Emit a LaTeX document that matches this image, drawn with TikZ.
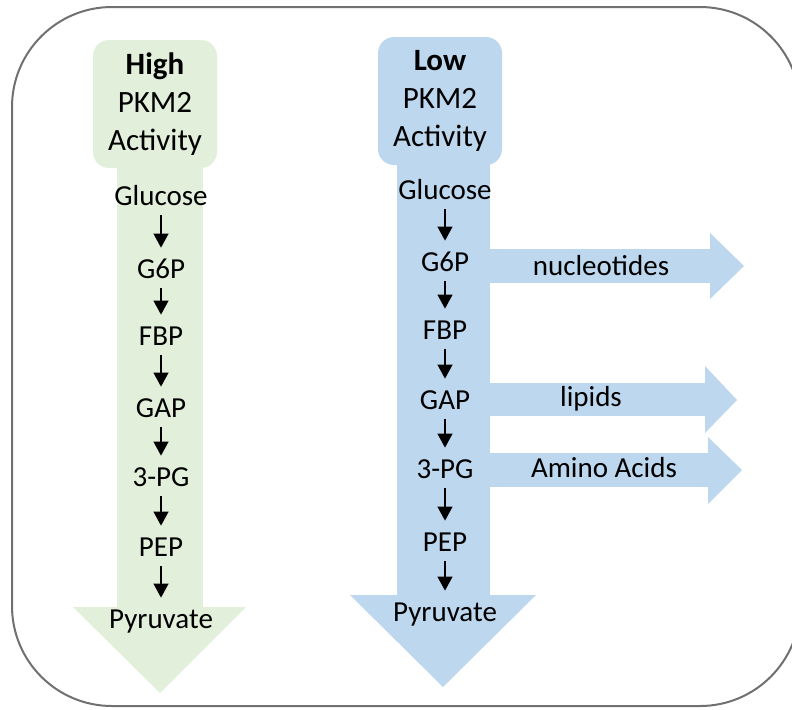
\documentclass[tikz,border=0pt]{standalone}
\usepackage{fontspec}
\setmainfont{Carlito}
\usepackage{tikz}
\usetikzlibrary{arrows.meta}

\definecolor{highgreen}{HTML}{E2EFDA}
\definecolor{lowblue}{HTML}{BDD7EE}
\definecolor{framegray}{HTML}{707070}

\tikzset{
  metab/.style={inner sep=5pt, text height=10pt, text depth=0pt, font=\fontsize{14.5}{17}\selectfont},
  hdr/.style={rounded corners=8pt, minimum width=62pt, minimum height=64pt, align=center, inner sep=0pt,
              font=\fontsize{15.5}{19}\selectfont},
  flux/.style={-{Triangle[length=7pt,width=7.5pt]}, line width=0.55pt, black},
  side/.style={font=\fontsize{14.5}{17}\selectfont}
}

\begin{document}
\begin{tikzpicture}[x=0.5pt, y=-0.5pt]
\useasboundingbox (0,0) rectangle (792,709);
\clip (0,0) rectangle (792,709);

% outer frame
\draw[framegray, line width=1pt, rounded corners=50pt] (12,7) rectangle (800,706);

% High PKM2 activity arrow
\fill[highgreen] (117,160) rectangle (203,607);
\fill[highgreen] (73,607) -- (246,607) -- (160,693) -- cycle;
\node[hdr, fill=highgreen] (high) at (155,104) {\textbf{High}\\PKM2\\Activity};

% Low PKM2 activity arrow
\fill[lowblue] (397,155) rectangle (490,595);
\fill[lowblue] (350,595) -- (536,595) -- (443,687) -- cycle;
\node[hdr, fill=lowblue] (low) at (440,101) {\textbf{Low}\\PKM2\\Activity};

% branches off the low arrow
\fill[lowblue] (485,249) rectangle (710,283);
\fill[lowblue] (710,233) -- (744,266) -- (710,299) -- cycle;
\fill[lowblue] (485,383) rectangle (705,416);
\fill[lowblue] (705,366) -- (737,400) -- (705,433) -- cycle;
\fill[lowblue] (485,453) rectangle (708,487);
\fill[lowblue] (708,437) -- (742,470) -- (708,504) -- cycle;
\node[side] (nuc) at (601,266) {nucleotides};
\node[side] (lip) at (591,399) {lipids};
\node[side] (amino) at (604,468) {Amino Acids};

% glycolysis, high activity
\node[metab] (hglc) at (161,195) {Glucose};
\node[metab] (hg6p) at (161,268) {G6P};
\node[metab] (hfbp) at (161,335) {FBP};
\node[metab] (hgap) at (161,407) {GAP};
\node[metab] (hpg)  at (161,476) {3-PG};
\node[metab] (hpep) at (161,546) {PEP};
\node[metab] (hpyr) at (161,618) {Pyruvate};
\foreach \a/\b in {hglc/hg6p, hg6p/hfbp, hfbp/hgap, hgap/hpg, hpg/hpep, hpep/hpyr}
  \draw[flux] (\a) -- (\b);

% glycolysis, low activity
\node[metab] (lglc) at (445,189) {Glucose};
\node[metab] (lg6p) at (445,261) {G6P};
\node[metab] (lfbp) at (445,329) {FBP};
\node[metab] (lgap) at (445,399) {GAP};
\node[metab] (lpg)  at (445,468) {3-PG};
\node[metab] (lpep) at (445,541) {PEP};
\node[metab] (lpyr) at (445,611) {Pyruvate};
\foreach \a/\b in {lglc/lg6p, lg6p/lfbp, lfbp/lgap, lgap/lpg, lpg/lpep, lpep/lpyr}
  \draw[flux] (\a) -- (\b);
\end{tikzpicture}
\end{document}
